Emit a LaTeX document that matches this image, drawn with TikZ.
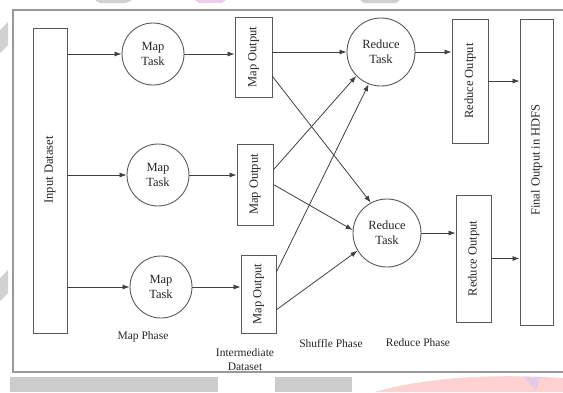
\documentclass[tikz,border=0pt]{standalone}
\usepackage{fontspec}
\setmainfont{Liberation Serif}
\usetikzlibrary{arrows.meta,calc}
\begin{document}
\begin{tikzpicture}[x=1pt,y=-1pt,
  every node/.style={font=\fontsize{12.5}{15}\selectfont, text=black!85},
  box/.style={draw=black!65, line width=0.9pt, rectangle, inner sep=0pt},
  task/.style={draw=black!65, line width=0.9pt, circle, inner sep=0pt, align=center, minimum size=62pt},
  rtask/.style={task, minimum size=68pt},
  vtext/.style={rotate=90},
  arr/.style={draw=black!75, line width=0.8pt, -{Latex[length=7pt,width=5pt]}},
  lbl/.style={font=\fontsize{11.5}{14}\selectfont, align=center}]
\useasboundingbox (0,0) rectangle (563,392);
% background artefacts
\fill[black!20] (10,377) rectangle (218,392);
\fill[black!20] (275,377) rectangle (352,392);
\fill[red!18] (375,392) .. controls (430,376) and (500,374) .. (563,378) -- (563,392) -- cycle;
\fill[violet!20] (523,377) -- (541,377) -- (536,390) -- cycle;
\fill[black!18] (95,0) -- (132,0) -- (126,3) -- (100,3) -- cycle;
\fill[violet!18] (195,0) -- (226,0) -- (222,3) -- (199,3) -- cycle;
\fill[black!18] (360,0) -- (400,0) -- (396,3) -- (364,3) -- cycle;
\fill[black!18] (0,30) -- (8,22) -- (8,45) -- (0,53) -- cycle;
\fill[black!18] (0,278) -- (8,270) -- (8,293) -- (0,301) -- cycle;
% frame
\draw[black!40, line width=1.5pt] (570,10) -- (13,10) -- (13,372) -- (570,372);
% nodes
\node[box, minimum width=34pt, minimum height=305pt] (in) at (50,180.5) {};
\node[vtext] (intext) at (50,170) {Input Dataset};
\node[task] (m1) at (153,54) {Map\\Task};
\node[task] (m2) at (158,175) {Map\\Task};
\node[task] (m3) at (161,287) {Map\\Task};
\node[box, minimum width=37pt, minimum height=80pt] (mo1) at (253.5,57) {};
\node[vtext] at (mo1.center) {Map Output};
\node[box, minimum width=36pt, minimum height=81pt] (mo2) at (255,184.5) {};
\node[vtext] at (mo2.center) {Map Output};
\node[box, minimum width=35pt, minimum height=78pt] (mo3) at (258.5,294) {};
\node[vtext] at (mo3.center) {Map Output};
\node[rtask] (r1) at (381,52) {Reduce\\Task};
\node[rtask] (r2) at (387,233) {Reduce\\Task};
\node[box, minimum width=36pt, minimum height=124pt] (ro1) at (470,81) {};
\node[vtext] at (ro1.center) {Reduce Output};
\node[box, minimum width=35pt, minimum height=127pt] (ro2) at (473.5,258.5) {};
\node[vtext] at (ro2.center) {Reduce Output};
\node[box, minimum width=33pt, minimum height=306pt] (fo) at (536.5,172) {};
\node[vtext] at (536.5,160) {Final Output in HDFS};
% labels
\node[lbl] (l1) at (143,337) {Map Phase};
\node[lbl] (l2) at (245,360) {Intermediate\\Dataset};
\node[lbl] (l3) at (331,343) {Shuffle Phase};
\node[lbl] (l4) at (418,343) {Reduce Phase};
% horizontal arrows
\draw[arr] (in.east |- m1.west) -- (m1.west);
\draw[arr] (in.east |- m2.west) -- (m2.west);
\draw[arr] (in.east |- m3.west) -- (m3.west);
\draw[arr] (m1.east) -- (mo1.west |- m1.east);
\draw[arr] (m2.east) -- (mo2.west |- m2.east);
\draw[arr] (m3.east) -- (mo3.west |- m3.east);
\draw[arr] (mo1.east |- r1.west) -- (r1.west);
\draw[arr] (r1.east) -- (ro1.west |- r1.east);
\draw[arr] (r2.east) -- (ro2.west |- r2.east);
\draw[arr] (ro1.east) -- (fo.west |- ro1.east);
\draw[arr] (ro2.east) -- (fo.west |- ro2.east);
% shuffle arrows
\draw[arr] ($(mo1.north east)!0.74!(mo1.south east)$) -- (r2.118);
\draw[arr] ($(mo2.north east)!0.32!(mo2.south east)$) -- (r1.224);
\draw[arr] ($(mo2.north east)!0.5!(mo2.south east)$) -- (r2.175);
\draw[arr] ($(mo3.north east)!0.22!(mo3.south east)$) -- (r1.249);
\draw[arr] ($(mo3.north east)!0.7!(mo3.south east)$) -- (r2.211);
\end{tikzpicture}
\end{document}
